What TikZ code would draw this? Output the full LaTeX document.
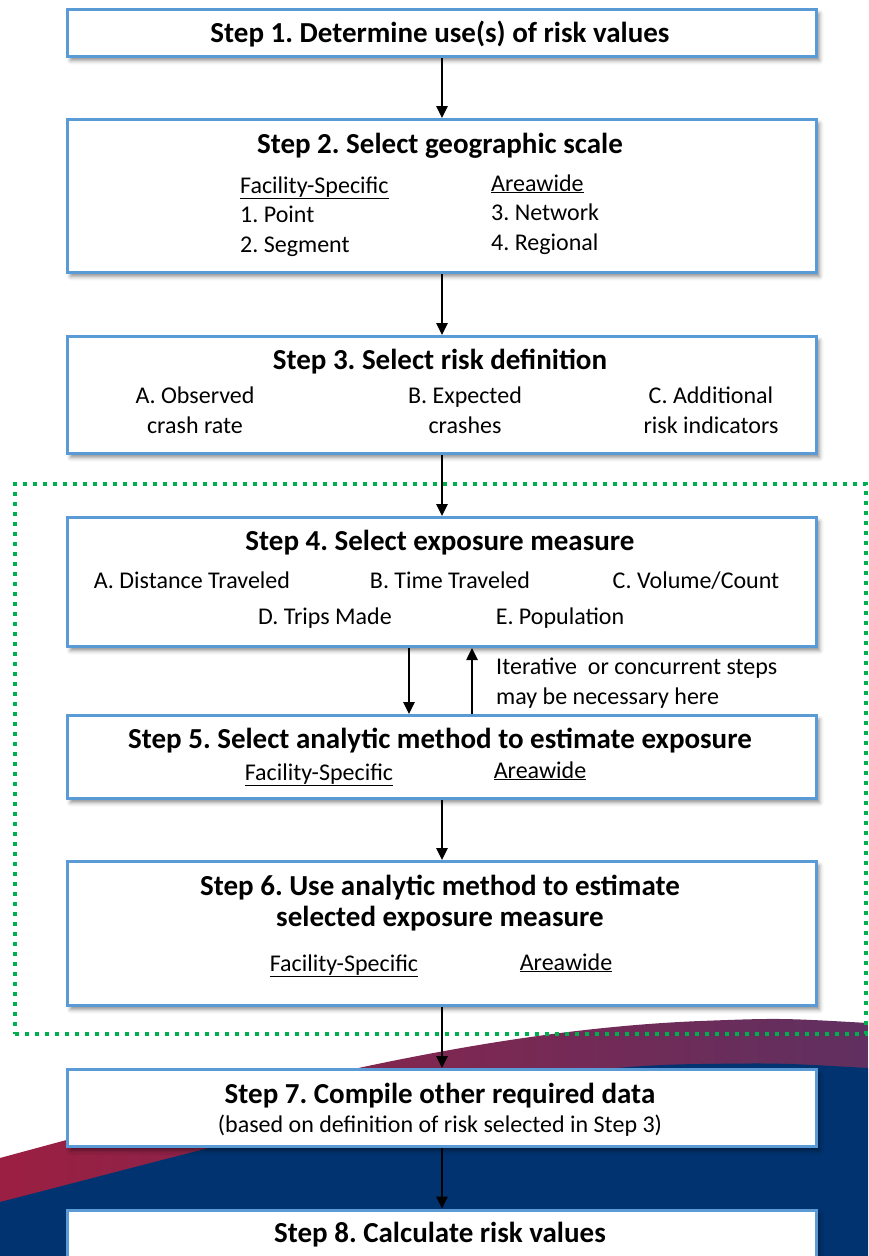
\documentclass[tikz,border=0pt]{standalone}
\usepackage{fontspec}
\setmainfont{Carlito}
\usetikzlibrary{arrows.meta,shadows.blur}
\definecolor{stepblue}{RGB}{91,155,213}
\definecolor{loopgreen}{RGB}{0,176,80}
\definecolor{navy}{RGB}{0,51,112}
\definecolor{crimson}{RGB}{155,31,66}
\definecolor{plum}{RGB}{96,48,96}
\frenchspacing

\begin{document}
\begin{tikzpicture}[x=1pt, y=-1pt, box/.style={draw=stepblue,line width=3pt,fill=white,minimum width=749pt,inner sep=0pt,blur shadow={shadow xshift=3pt,shadow yshift=-4pt,shadow opacity=45,shadow blur radius=4pt}}, head/.style={font=\fontsize{29}{31}\selectfont\bfseries,anchor=base,inner sep=0pt,align=center}, txt/.style={font=\fontsize{24}{30}\selectfont,anchor=base,inner sep=0pt}, >={Triangle[width=11pt,length=12pt]}, arr/.style={->,line width=2.5pt}]
\useasboundingbox (0,0) rectangle (868,1256);
\clip (0,0) rectangle (868,1256);
% background swoosh
\shade[left color=crimson,right color=plum] (0,1158) .. controls (250,1090) and (480,1030) .. (700,1021) .. controls (780,1018) .. (868,1023) -- (868,1256) -- (0,1256) -- cycle;
\fill[navy] (0,1202) .. controls (300,1125) and (500,1066) .. (700,1064) .. controls (780,1063) .. (868,1068) -- (868,1256) -- (0,1256) -- cycle;
\node[draw=loopgreen,line width=4pt,dash pattern=on 4pt off 6pt,minimum width=851pt,minimum height=550pt,inner sep=0pt] (loop) at (440.5,759) {};
% steps
\node[box,minimum height=47pt] (s1) at (442,33) {};
\node[box,minimum height=153pt] (s2) at (442,196) {};
\node[box,minimum height=117pt] (s3) at (442,395) {};
\node[box,minimum height=129pt] (s4) at (442,582) {};
\node[box,minimum height=83pt] (s5) at (442,757) {};
\node[box,minimum height=144pt] (s6) at (442,933.5) {};
\node[box,minimum height=77pt] (s7) at (442,1108) {};
\node[box,minimum height=90pt] (s8) at (442,1255) {};
\node[head] (t1) at (440,42) {Step 1. Determine use(s) of risk values};
\node[head] (t2) at (440,153) {Step 2. Select geographic scale};
\node[txt,anchor=base west] (fs2) at (240,193) {\underline{Facility-Specific}};
\node[txt,anchor=base west] (pt2) at (240,222) {1. Point};
\node[txt,anchor=base west] (sg2) at (240,252) {2. Segment};
\node[txt,anchor=base west] (aw2) at (491,191) {\underline{Areawide}};
\node[txt,anchor=base west] (nw2) at (491,220) {3. Network};
\node[txt,anchor=base west] (rg2) at (491,250) {4. Regional};
\node[head] (t3) at (440,369) {Step 3. Select risk definition};
\node[txt,align=center] (obs) at (195,433) {A. Observed\\crash rate};
\node[txt,align=center] (exp) at (465,433) {B. Expected\\crashes};
\node[txt,align=center] (add) at (711,433) {C. Additional\\risk indicators};
\node[head] (t4) at (440,550) {Step 4. Select exposure measure};
\node[txt] (dist) at (192,588) {A. Distance Traveled};
\node[txt] (time) at (450,588) {B. Time Traveled};
\node[txt] (vol) at (696,588) {C. Volume/Count};
\node[txt] (trip) at (325,624) {D. Trips Made};
\node[txt] (pop) at (560,624) {E. Population};
\node[head] (t5) at (440,748) {Step 5. Select analytic method to estimate exposure};
\node[txt] (fs5) at (319,780) {\underline{Facility-Specific}};
\node[txt] (aw5) at (540,778) {\underline{Areawide}};
\node[head] (t6) at (440,926) {Step 6. Use analytic method to estimate\\selected exposure measure};
\node[txt] (fs6) at (344,971) {\underline{Facility-Specific}};
\node[txt] (aw6) at (566,970) {\underline{Areawide}};
\node[head] (t7) at (440,1103) {Step 7. Compile other required data};
\node[txt] (sub7) at (440,1132) {(based on definition of risk selected in Step 3)};
\node[head] (t8) at (440,1242) {Step 8. Calculate risk values};
\node[txt,anchor=base west,align=left] (iter) at (496,704) {Iterative \ or concurrent steps\\may be necessary here};
% arrows
\foreach \a/\b in {s1/s2,s2/s3,s3/s4,s5/s6,s6/s7,s7/s8} \draw[arr] (\a)--(\b);
\draw[arr] ([xshift=-33pt]s4.south)--([xshift=-33pt]s5.north);
\draw[arr] ([xshift=30pt]s5.north)--([xshift=30pt]s4.south);
\end{tikzpicture}
\end{document}
